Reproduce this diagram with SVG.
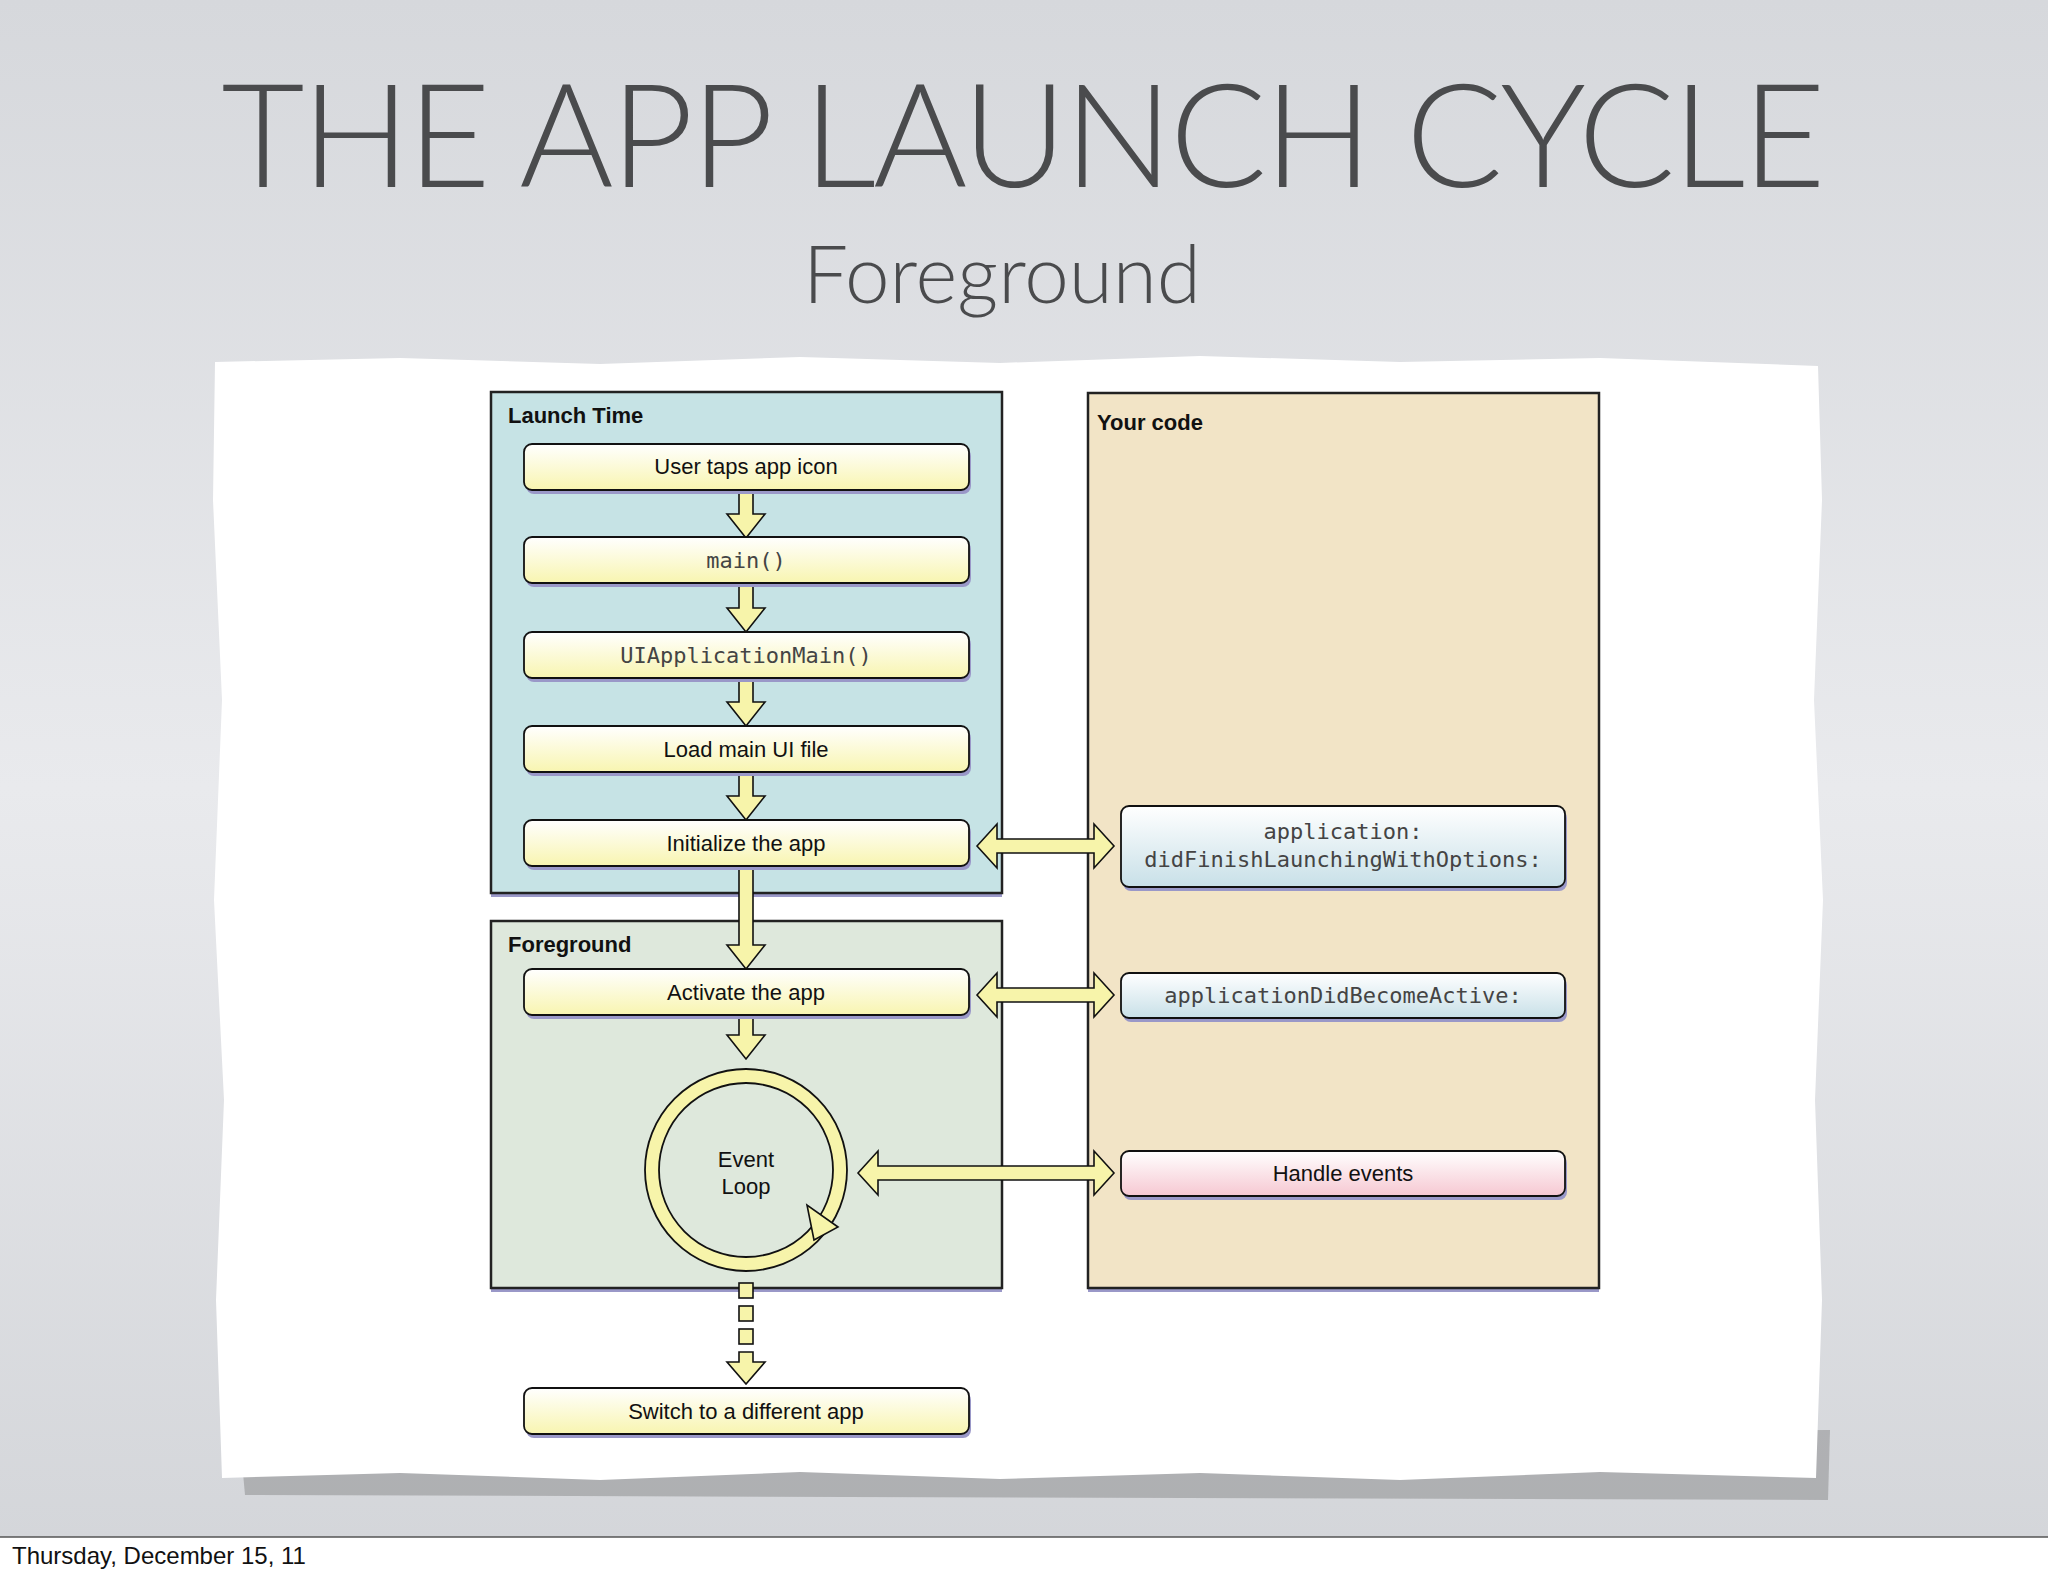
<svg xmlns="http://www.w3.org/2000/svg" width="2048" height="1576" viewBox="0 0 2048 1576">
<defs>
<linearGradient id="bg" x1="0" y1="0" x2="0" y2="1"><stop offset="0" stop-color="#d6d8dc"/><stop offset="0.5" stop-color="#e9eaed"/><stop offset="1" stop-color="#d3d5d9"/></linearGradient>
<linearGradient id="yel" x1="0" y1="0" x2="0" y2="1"><stop offset="0" stop-color="#ffffff"/><stop offset="1" stop-color="#f8f5b0"/></linearGradient>
<linearGradient id="blu" x1="0" y1="0" x2="0" y2="1"><stop offset="0" stop-color="#ffffff"/><stop offset="1" stop-color="#c8e0e8"/></linearGradient>
<linearGradient id="pnk" x1="0" y1="0" x2="0" y2="1"><stop offset="0" stop-color="#ffffff"/><stop offset="1" stop-color="#f6c8d2"/></linearGradient>
<linearGradient id="arr" x1="0" y1="0" x2="1" y2="0"><stop offset="0" stop-color="#f6f3a4"/><stop offset="0.5" stop-color="#fdfcd8"/><stop offset="1" stop-color="#f6f3a4"/></linearGradient>
</defs>
<style>
.grp{stroke:#222;stroke-width:2.5}
.sh{fill:#9a98c8}
.box{stroke:#111;stroke-width:1.8}
.t{font-family:"Liberation Sans",Arial,sans-serif;font-size:22px;fill:#111;text-anchor:middle}
.m{font-family:"DejaVu Sans Mono","Liberation Mono",monospace;font-size:22px;fill:#444;text-anchor:middle}
.h{font-family:"Liberation Sans",Arial,sans-serif;font-size:22px;font-weight:bold;fill:#111}
.a{fill:#f7f4aa;stroke:#111;stroke-width:1.6;stroke-linejoin:miter}
</style>
<rect width="2048" height="1576" fill="url(#bg)"/>
<rect y="1537" width="2048" height="39" fill="#ffffff"/>
<line x1="0" y1="1537" x2="2048" y2="1537" stroke="#555" stroke-width="1.5"/>
<text x="12" y="1564" font-family="Liberation Sans,Arial,sans-serif" font-size="24" fill="#111">Thursday, December 15, 11</text>
<text x="1022" y="187" font-family="Lato,'Open Sans',sans-serif" font-weight="300" font-size="144" fill="#4a4b4d" text-anchor="middle" letter-spacing="-3">THE APP LAUNCH CYCLE</text>
<text x="1002" y="303" font-family="Lato,'Open Sans',sans-serif" font-weight="300" font-size="80" fill="#4a4b4d" text-anchor="middle">Foreground</text>
<!-- paper -->
<path d="M240 1440 L1830 1430 L1828 1500 L245 1495 Z" fill="#666" opacity="0.35"/>
<path d="M215 362 L400 358 L600 364 L800 357 L1000 363 L1200 356 L1400 362 L1600 358 L1818 366 L1822 500 L1814 700 L1823 900 L1815 1100 L1822 1300 L1816 1478 L1600 1472 L1400 1480 L1200 1473 L1000 1479 L800 1472 L600 1480 L400 1473 L222 1478 L216 1300 L224 1100 L214 900 L222 700 L213 500 Z" fill="#ffffff"/>
<!-- groups -->
<g id="launch-time"><rect x="491" y="396" width="511" height="501" class="sh"/><rect x="491" y="392" width="511" height="501" fill="#c6e3e5" class="grp"/><text x="508" y="423" class="h">Launch Time</text></g>
<g id="foreground"><rect x="491" y="925" width="511" height="367" class="sh"/><rect x="491" y="921" width="511" height="367" fill="#dee8dc" class="grp"/><text x="508" y="952" class="h">Foreground</text></g>
<g id="your-code"><rect x="1088" y="397" width="511" height="895" class="sh"/><rect x="1088" y="393" width="511" height="895" fill="#f2e4c6" class="grp"/><text x="1097" y="430" class="h">Your code</text></g>
<!-- connectors -->
<g id="connectors">
<path class="a" d="M739 490 V514 H727 L746 538 L765 514 H753 V490 Z"/>
<path class="a" d="M739 582 V608 H727 L746 632 L765 608 H753 V582 Z"/>
<path class="a" d="M739 678 V702 H727 L746 726 L765 702 H753 V678 Z"/>
<path class="a" d="M739 772 V796 H727 L746 820 L765 796 H753 V772 Z"/>
<path class="a" d="M739 866 V945 H727 L746 969 L765 945 H753 V866 Z"/>
<path class="a" d="M739 1015 V1035 H727 L746 1059 L765 1035 H753 V1015 Z"/>
<path class="a" d="M977 846 L997 824 V839 H1094 V824 L1114 846 L1094 868 V853 H997 V868 Z" fill="url(#arr)"/>
<path class="a" d="M977 995 L997 973 V988 H1094 V973 L1114 995 L1094 1017 V1002 H997 V1017 Z" fill="url(#arr)"/>
<path class="a" d="M858 1173 L878 1151 V1166 H1094 V1151 L1114 1173 L1094 1195 V1180 H878 V1195 Z" fill="url(#arr)"/>
<rect class="a" x="739" y="1283" width="14" height="15"/>
<rect class="a" x="739" y="1306" width="14" height="15"/>
<rect class="a" x="739" y="1329" width="14" height="15"/>
<path class="a" d="M739 1352 V1362 H727 L746 1384 L765 1362 H753 V1352 Z"/>
</g>
<!-- nodes -->
<g id="n-user-taps"><rect x="526" y="448" width="445" height="46" rx="8" class="sh"/><rect x="524" y="444" width="445" height="46" rx="8" fill="url(#yel)" class="box"/><text x="746" y="474" class="t">User taps app icon</text></g>
<g id="n-main"><rect x="526" y="541" width="445" height="46" rx="8" class="sh"/><rect x="524" y="537" width="445" height="46" rx="8" fill="url(#yel)" class="box"/><text x="746" y="568" class="m">main()</text></g>
<g id="n-uiappmain"><rect x="526" y="636" width="445" height="46" rx="8" class="sh"/><rect x="524" y="632" width="445" height="46" rx="8" fill="url(#yel)" class="box"/><text x="746" y="663" class="m">UIApplicationMain()</text></g>
<g id="n-load"><rect x="526" y="730" width="445" height="46" rx="8" class="sh"/><rect x="524" y="726" width="445" height="46" rx="8" fill="url(#yel)" class="box"/><text x="746" y="757" class="t">Load main UI file</text></g>
<g id="n-init"><rect x="526" y="824" width="445" height="46" rx="8" class="sh"/><rect x="524" y="820" width="445" height="46" rx="8" fill="url(#yel)" class="box"/><text x="746" y="851" class="t">Initialize the app</text></g>
<g id="n-activate"><rect x="526" y="973" width="445" height="46" rx="8" class="sh"/><rect x="524" y="969" width="445" height="46" rx="8" fill="url(#yel)" class="box"/><text x="746" y="1000" class="t">Activate the app</text></g>
<g id="n-switch"><rect x="526" y="1392" width="445" height="46" rx="8" class="sh"/><rect x="524" y="1388" width="445" height="46" rx="8" fill="url(#yel)" class="box"/><text x="746" y="1419" class="t">Switch to a different app</text></g>
<g id="n-didfinish"><rect x="1123" y="810" width="444" height="81" rx="8" class="sh"/><rect x="1121" y="806" width="444" height="81" rx="8" fill="url(#blu)" class="box"/><text x="1343" y="839" class="m">application:</text><text x="1343" y="867" class="m">didFinishLaunchingWithOptions:</text></g>
<g id="n-didbecome"><rect x="1123" y="977" width="444" height="45" rx="8" class="sh"/><rect x="1121" y="973" width="444" height="45" rx="8" fill="url(#blu)" class="box"/><text x="1343" y="1003" class="m">applicationDidBecomeActive:</text></g>
<g id="n-handle"><rect x="1123" y="1155" width="444" height="45" rx="8" class="sh"/><rect x="1121" y="1151" width="444" height="45" rx="8" fill="url(#pnk)" class="box"/><text x="1343" y="1181" class="t">Handle events</text></g>
<g id="n-event-loop">
<circle cx="746" cy="1170" r="101" fill="#f7f4aa" stroke="#111" stroke-width="1.8"/>
<circle cx="746" cy="1170" r="87" fill="#dee8dc" stroke="#111" stroke-width="1.8"/>
<path d="M807 1205 L814 1240 L838 1227 Z" fill="#f7f4aa" stroke="#111" stroke-width="1.6"/>
<text x="746" y="1167" class="t">Event</text><text x="746" y="1194" class="t">Loop</text>
</g>
</svg>
